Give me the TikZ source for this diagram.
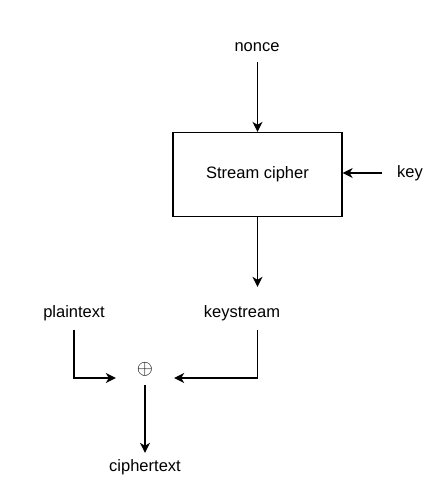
\documentclass[tikz,border=0pt]{standalone}
\usepackage{fontspec}
\setmainfont{Liberation Sans}
\usetikzlibrary{arrows.meta}
\begin{document}
\begin{tikzpicture}[x=1pt,y=-1pt,
  font=\fontsize{16.5}{19}\selectfont,
  lbl/.style={inner sep=0pt, text height=12pt, text depth=3pt},
  boxed/.style={draw, line width=1.3pt, minimum width=169pt, minimum height=84pt, inner sep=0pt},
  conn/.style={line width=1.3pt, -{Stealth[length=10pt, width=10pt, inset=3pt]}}]
\path[use as bounding box] (0,0) rectangle (434,486);
\node[lbl] (nonce) at (257,47) {nonce};
\node[boxed] (sc) at (257.5,174.5) {Stream cipher};
\node[lbl] (key) at (410,173) {key};
\node[lbl] (keystream) at (242,313) {keystream};
\node[lbl] (plaintext) at (74,313) {plaintext};
\node[minimum width=58pt, minimum height=14pt, inner sep=0pt] (xor) at (145,378)
  {\raisebox{0pt}[0pt][0pt]{\raisebox{3.5pt}{\scalebox{1.2}{$\oplus$}}}};
\node[lbl] (ciphertext) at (145,467) {ciphertext};
\draw[conn, shorten <=7.5pt] (nonce.south -| sc.north) -- (sc.north);
\draw[conn, shorten <=14.5pt] (key.west) -- (sc.east |- key.west);
\draw[conn, shorten >=18.5pt] (sc.south) -- (sc.south |- keystream.north);
\draw[conn, shorten <=9.5pt] (sc.south |- keystream.south) |- (xor.east);
\draw[conn, shorten <=9.5pt] (plaintext.south) |- (xor.west);
\draw[conn, shorten >=6.5pt] (xor.south) -- (ciphertext.north);
\end{tikzpicture}
\end{document}
